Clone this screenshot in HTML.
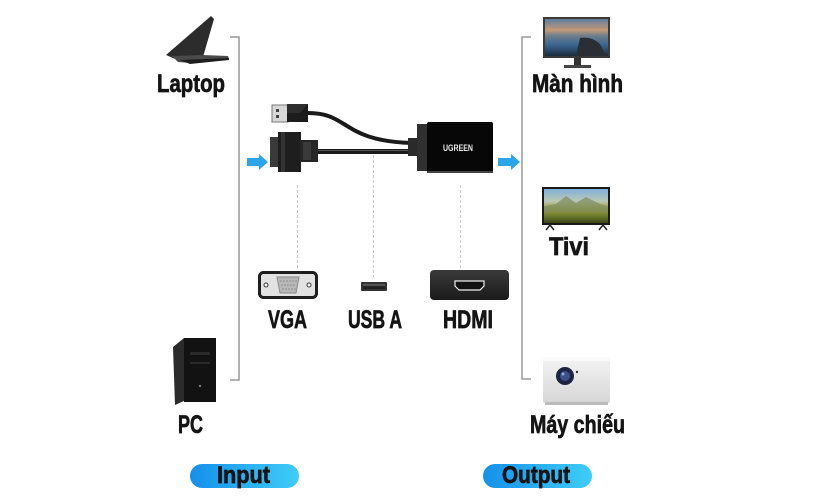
<!DOCTYPE html>
<html><head><meta charset="utf-8"><style>
html,body{margin:0;padding:0;background:#fff;}
svg{display:block;}
.t{font-family:"Liberation Sans",sans-serif;font-weight:bold;fill:#141414;stroke:#141414;stroke-width:0.7;}
</style></head><body>
<svg width="814" height="496" viewBox="0 0 814 496" xmlns="http://www.w3.org/2000/svg">
<defs>
<linearGradient id="btn" x1="0" y1="0" x2="1" y2="0">
<stop offset="0" stop-color="#1590ea"/><stop offset="1" stop-color="#3fcdf8"/>
</linearGradient>
<linearGradient id="mon" x1="0" y1="0" x2="0" y2="1">
<stop offset="0" stop-color="#5f7d9e"/><stop offset="0.3" stop-color="#c49a78"/><stop offset="0.45" stop-color="#6f7f8c"/><stop offset="0.7" stop-color="#3a6690"/><stop offset="1" stop-color="#1b2b3c"/>
</linearGradient>
<linearGradient id="tv" x1="0" y1="0" x2="0" y2="1">
<stop offset="0" stop-color="#7fb0d8"/><stop offset="0.35" stop-color="#b9c9b8"/><stop offset="0.55" stop-color="#a5a54a"/><stop offset="0.8" stop-color="#6a7a2a"/><stop offset="1" stop-color="#3a4416"/>
</linearGradient>
<linearGradient id="hd" x1="0" y1="0" x2="0" y2="1">
<stop offset="0" stop-color="#3a3a3a"/><stop offset="1" stop-color="#1a1a1a"/>
</linearGradient>
<linearGradient id="proj" x1="0" y1="0" x2="0" y2="1">
<stop offset="0" stop-color="#f4f4f4"/><stop offset="1" stop-color="#d6d6d6"/>
</linearGradient>
</defs>

<!-- brackets -->
<path d="M230,37 H239 V380 H230" fill="none" stroke="#9a9a9a" stroke-width="1.5"/>
<path d="M531,37 H522 V379 H531" fill="none" stroke="#9a9a9a" stroke-width="1.5"/>

<!-- arrows -->
<polygon points="247,158 259,158 259,154 268,162 259,170 259,166 247,166" fill="#2aa5e8"/>
<polygon points="498,158 511,158 511,154 520,162 511,170 511,166 498,166" fill="#2aa5e8"/>

<!-- laptop -->
<polygon points="211,16 214,19 203,57 180,61 166,55" fill="#2c2c2c"/>
<polygon points="172,56 203,55 228,56 229,59 190,63 178,62" fill="#4a4a4a"/>
<polygon points="180,60 229,58 229,60 190,64" fill="#1e1e1e"/>

<!-- PC tower -->
<polygon points="173,347 184,338 186,400 175,405" fill="#2b2b2b"/>
<rect x="184" y="338" width="32" height="64" fill="#121212"/>
<rect x="190" y="352" width="20" height="3" fill="#2a2a2a"/>
<rect x="190" y="362" width="20" height="2" fill="#2a2a2a"/>
<circle cx="200" cy="386" r="1.2" fill="#777"/>

<!-- monitor -->
<rect x="543" y="17" width="67" height="41" fill="#3a3a3a"/>
<rect x="545" y="19" width="63" height="37" fill="url(#mon)"/>
<path d="M580,38 Q592,36 600,44 L606,56 L576,56 Z" fill="#2a2f36"/>
<rect x="574" y="58" width="7" height="7" fill="#333"/>
<rect x="564" y="65" width="27" height="3" fill="#444"/>

<!-- TV -->
<rect x="542" y="187" width="68" height="38" fill="#1a1a1a"/>
<rect x="544" y="189" width="64" height="34" fill="url(#tv)"/>
<path d="M556,204 L566,196 L576,203 L586,197 L600,204 L608,206 L608,212 L544,212 L544,206 Z" fill="#7c8a60" opacity="0.7"/>
<path d="M546,230 L550,225 L554,230" fill="none" stroke="#222" stroke-width="1.5"/>
<path d="M599,230 L603,225 L607,230" fill="none" stroke="#222" stroke-width="1.5"/>

<!-- projector -->
<rect x="543" y="357" width="67" height="46" rx="2" fill="url(#proj)"/>
<rect x="543" y="357" width="67" height="4" fill="#fafafa"/>
<rect x="545" y="402" width="63" height="3" fill="#bbb"/>
<circle cx="565" cy="376" r="9" fill="#1b2440"/>
<circle cx="565" cy="376" r="5" fill="#3b4f8a"/>
<circle cx="563" cy="374" r="1.5" fill="#8ea8e0"/>
<circle cx="577" cy="372" r="1.2" fill="#333"/>

<!-- dashed lines -->
<line x1="297.5" y1="185" x2="297.5" y2="268" stroke="#c8c8c8" stroke-width="1" stroke-dasharray="3,2"/>
<line x1="373.5" y1="150" x2="373.5" y2="277" stroke="#c8c8c8" stroke-width="1" stroke-dasharray="3,2"/>
<line x1="460.5" y1="185" x2="460.5" y2="268" stroke="#c8c8c8" stroke-width="1" stroke-dasharray="3,2"/>

<!-- cables -->
<path d="M306,113 C350,112 340,141 412,143" fill="none" stroke="#1a1a1a" stroke-width="4"/>
<rect x="316" y="149" width="96" height="5" fill="#1a1a1a"/>
<rect x="316" y="150" width="96" height="1" fill="#555"/>

<!-- USB plug -->
<rect x="272" y="105" width="16" height="17" fill="#d8d8d8" stroke="#777" stroke-width="1"/>
<rect x="276" y="109" width="3" height="3" fill="#444"/>
<rect x="276" y="115" width="3" height="3" fill="#444"/>
<rect x="287" y="104" width="21" height="18" fill="#1c1c1c"/>
<polygon points="287,104 308,104 300,113 287,113" fill="#2e2e2e"/>

<!-- VGA plug -->
<rect x="270" y="137" width="9" height="30" fill="#3a3a3a"/>
<rect x="278" y="132" width="23" height="40" fill="#1e1e1e"/>
<rect x="281" y="132" width="4" height="40" fill="#333"/>
<rect x="300" y="140" width="18" height="22" fill="#262626"/>
<rect x="303" y="142" width="8" height="18" fill="#3a3a3a"/>

<!-- adapter -->
<rect x="408" y="138" width="10" height="18" fill="#2a2a2a"/>
<rect x="417" y="124" width="12" height="47" fill="#303030"/>
<rect x="427" y="122" width="66" height="51" rx="2" fill="#070707"/>
<rect x="427" y="171" width="66" height="2" fill="#444"/>
<text x="458" y="151" text-anchor="middle" font-family="Liberation Sans,sans-serif" font-size="9.5" font-weight="bold" fill="#e8e8e8" textLength="30" lengthAdjust="spacingAndGlyphs">UGREEN</text>

<!-- VGA port -->
<rect x="259.5" y="272.5" width="57" height="25" rx="4" fill="#e2e2e2" stroke="#1e1e1e" stroke-width="3"/>
<polygon points="277,277 299,277 296,293 280,293" fill="#b8b8b8" stroke="#888" stroke-width="1"/>
<g fill="#8a8a8a">
<circle cx="281" cy="281" r="0.8"/><circle cx="284" cy="281" r="0.8"/><circle cx="287" cy="281" r="0.8"/><circle cx="290" cy="281" r="0.8"/><circle cx="293" cy="281" r="0.8"/><circle cx="296" cy="281" r="0.8"/>
<circle cx="282" cy="285" r="0.8"/><circle cx="285" cy="285" r="0.8"/><circle cx="288" cy="285" r="0.8"/><circle cx="291" cy="285" r="0.8"/><circle cx="294" cy="285" r="0.8"/>
<circle cx="283" cy="289" r="0.8"/><circle cx="286" cy="289" r="0.8"/><circle cx="289" cy="289" r="0.8"/><circle cx="292" cy="289" r="0.8"/><circle cx="295" cy="289" r="0.8"/>
</g>
<circle cx="266" cy="285" r="2" fill="#fff" stroke="#333" stroke-width="1"/>
<circle cx="309" cy="285" r="2" fill="#fff" stroke="#333" stroke-width="1"/>

<!-- USB port -->
<rect x="361" y="282" width="26" height="9" rx="1" fill="#333"/>
<rect x="363" y="284" width="22" height="5" fill="#555"/>
<rect x="363" y="286" width="22" height="3" fill="#222"/>

<!-- HDMI port -->
<rect x="430" y="270" width="79" height="30" rx="4" fill="url(#hd)"/>
<path d="M455,281 H484 V286 L480,290 H459 L455,286 Z" fill="#111" stroke="#eee" stroke-width="1.2"/>

<!-- labels -->
<text class="t" x="157" y="92" font-size="25" textLength="68" lengthAdjust="spacingAndGlyphs">Laptop</text>
<text class="t" x="178" y="433" font-size="25" textLength="25" lengthAdjust="spacingAndGlyphs">PC</text>
<text class="t" x="532" y="92" font-size="25" textLength="91" lengthAdjust="spacingAndGlyphs">Màn hình</text>
<text class="t" x="549" y="255" font-size="25" textLength="40" lengthAdjust="spacingAndGlyphs">Tivi</text>
<text class="t" x="530" y="433" font-size="25" textLength="95" lengthAdjust="spacingAndGlyphs">Máy chiếu</text>
<text class="t" x="268" y="328" font-size="25" textLength="39" lengthAdjust="spacingAndGlyphs">VGA</text>
<text class="t" x="348" y="328" font-size="25" textLength="54" lengthAdjust="spacingAndGlyphs">USB A</text>
<text class="t" x="443" y="328" font-size="25" textLength="50" lengthAdjust="spacingAndGlyphs">HDMI</text>

<!-- buttons -->
<rect x="190" y="464" width="109" height="24" rx="12" fill="url(#btn)"/>
<rect x="483" y="464" width="109" height="24" rx="12" fill="url(#btn)"/>
<text class="t" x="217" y="483" font-size="24" textLength="53" lengthAdjust="spacingAndGlyphs">Input</text>
<text class="t" x="502" y="483" font-size="24" textLength="68" lengthAdjust="spacingAndGlyphs">Output</text>
</svg>
</body></html>
